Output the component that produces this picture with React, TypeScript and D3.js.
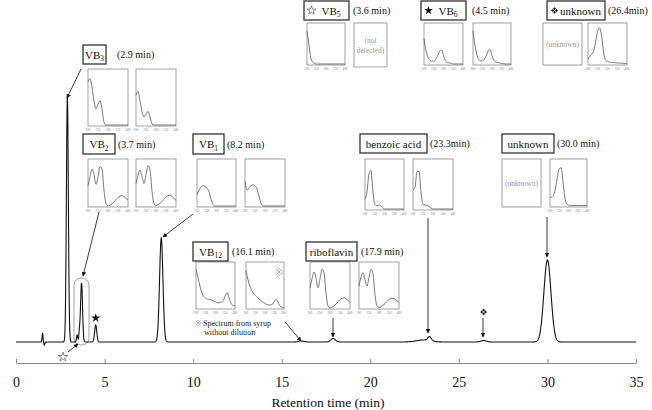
import React, { useEffect, useRef } from 'react';
import * as d3 from 'd3';

// chromatogram peaks: retention time (min), height (mAU), sigma (min)
const peakTimes = [1.5, 1.6, 2.9, 3.45, 3.58, 3.7, 4.5, 8.2, 16.1, 17.9, 23.0, 23.35, 26.4, 30.0];
const peakHeights = [9, -3, 245, 7, 9, 59, 17, 104, 1, 3.5, 2, 4, 1.5, 82];
const peakSigmas = [0.025, 0.03, 0.055, 0.035, 0.035, 0.055, 0.06, 0.095, 0.15, 0.13, 0.4, 0.1, 0.15, 0.2];

const xTicks = [0, 5, 10, 15, 20, 25, 30, 35];

// UV spectra, 200-400 nm every 10 nm, normalised absorbance
const wavelengths = [200, 210, 220, 230, 240, 250, 260, 270, 280, 290, 300, 310, 320, 330, 340, 350, 360, 370, 380, 390, 400];
const specTicks = [200, 250, 300, 350, 400];

const vb3Std = [0.8, 0.86, 0.7, 0.45, 0.3, 0.38, 0.45, 0.3, 0.05, 0, 0, 0, 0, 0, 0, 0, 0, 0, 0, 0, 0];
const vb3Sample = [0.55, 0.62, 0.45, 0.25, 0.15, 0.2, 0.25, 0.15, 0.02, 0, 0, 0, 0, 0, 0, 0, 0, 0, 0, 0, 0];
const vb2Std = [0.45, 0.65, 0.82, 0.7, 0.48, 0.65, 0.88, 0.82, 0.35, 0.05, 0, 0.02, 0.05, 0.09, 0.14, 0.19, 0.22, 0.23, 0.21, 0.17, 0.13];
const vb2Sample = [0.5, 0.68, 0.8, 0.66, 0.5, 0.7, 0.9, 0.8, 0.33, 0.05, 0.01, 0.03, 0.06, 0.1, 0.15, 0.2, 0.23, 0.24, 0.21, 0.17, 0.12];
const vb1Std = [0.25, 0.35, 0.42, 0.45, 0.44, 0.4, 0.33, 0.18, 0.05, 0, 0, 0, 0, 0, 0, 0, 0, 0, 0, 0, 0];
const vb1Sample = [0.55, 0.35, 0.4, 0.46, 0.47, 0.45, 0.38, 0.22, 0.06, 0, 0, 0, 0, 0, 0, 0, 0, 0, 0, 0, 0];
const vb12Std = [0.88, 0.7, 0.5, 0.35, 0.26, 0.22, 0.2, 0.2, 0.18, 0.16, 0.14, 0.12, 0.12, 0.13, 0.17, 0.28, 0.35, 0.22, 0.1, 0.06, 0.05];
const vb12Sample = [0.85, 0.65, 0.5, 0.4, 0.33, 0.28, 0.24, 0.2, 0.16, 0.13, 0.1, 0.08, 0.07, 0.07, 0.09, 0.16, 0.2, 0.12, 0.04, 0.02, 0.01];
const riboStd = [0.45, 0.66, 0.82, 0.68, 0.46, 0.66, 0.88, 0.8, 0.34, 0.05, 0, 0.02, 0.05, 0.09, 0.14, 0.19, 0.22, 0.23, 0.21, 0.17, 0.13];
const riboSample = [0.5, 0.7, 0.8, 0.64, 0.5, 0.7, 0.88, 0.78, 0.3, 0.05, 0.01, 0.03, 0.06, 0.1, 0.15, 0.19, 0.22, 0.22, 0.2, 0.16, 0.12];
const benzoicStd = [0.2, 0.35, 0.72, 0.8, 0.4, 0.1, 0.07, 0.08, 0.07, 0.03, 0, 0, 0, 0, 0, 0, 0, 0, 0, 0, 0];
const benzoicSample = [0.4, 0.45, 0.78, 0.78, 0.35, 0.1, 0.08, 0.08, 0.05, 0.02, 0, 0, 0, 0, 0, 0, 0, 0, 0, 0, 0];
const unknown30Sample = [0.18, 0.2, 0.25, 0.4, 0.65, 0.83, 0.85, 0.55, 0.2, 0.05, 0.02, 0.01, 0.01, 0.01, 0.01, 0.01, 0.01, 0.01, 0.01, 0.01, 0.01];
const vb5Std = [0.85, 0.5, 0.15, 0.05, 0.02, 0, 0, 0, 0, 0, 0, 0, 0, 0, 0, 0, 0, 0, 0, 0, 0];
const vb6Std = [0.65, 0.35, 0.18, 0.1, 0.07, 0.07, 0.12, 0.22, 0.33, 0.36, 0.22, 0.08, 0.04, 0.03, 0.02, 0, 0, 0, 0, 0, 0];
const vb6Sample = [0.85, 0.5, 0.25, 0.12, 0.08, 0.08, 0.12, 0.22, 0.34, 0.37, 0.22, 0.09, 0.05, 0.04, 0.03, 0.01, 0.01, 0, 0, 0, 0];
const unknown26Sample = [0.12, 0.2, 0.25, 0.35, 0.6, 0.85, 0.93, 0.7, 0.3, 0.1, 0.06, 0.05, 0.04, 0.04, 0.03, 0.03, 0.02, 0.02, 0.02, 0.01, 0.01];

const width = 652;
const height = 410;

const x = d3.scaleLinear().domain([0, 35]).range([16, 636]);
const y = d3.scaleLinear().domain([0, 245]).range([342, 97]);

// label boxes: [x, y, w, h], name, subscript, marker glyph, retention time text and its x
const labels = [
  { box: [83, 45, 23, 19], name: 'VB', sub: '3', mark: '', time: '(2.9 min)', tx: 117 },
  { box: [83, 134, 32, 20], name: 'VB', sub: '2', mark: '', time: '(3.7 min)', tx: 118 },
  { box: [193, 134, 31, 20], name: 'VB', sub: '1', mark: '', time: '(8.2 min)', tx: 227 },
  { box: [193, 242, 35, 19], name: 'VB', sub: '12', mark: '', time: '(16.1 min)', tx: 232 },
  { box: [306, 242, 51, 19], name: 'riboflavin', sub: '', mark: '', time: '(17.9 min)', tx: 361 },
  { box: [360, 134, 67, 19], name: 'benzoic acid', sub: '', mark: '', time: '(23.3min)', tx: 430 },
  { box: [502, 134, 52, 19], name: 'unknown', sub: '', mark: '', time: '(30.0 min)', tx: 557 },
  { box: [304, 1, 45, 19], name: 'VB', sub: '5', mark: 'open', time: '(3.6 min)', tx: 353 },
  { box: [421, 1, 45, 19], name: 'VB', sub: '6', mark: 'star', time: '(4.5 min)', tx: 472 },
  { box: [547, 1, 58, 19], name: 'unknown', sub: '', mark: 'clover', time: '(26.4min)', tx: 608 },
];

// spectrum insets: [x, y, w, h]
const spectra: { r: number[]; s?: number[]; text?: string[] }[] = [
  { r: [88, 69, 40, 57], s: vb3Std },
  { r: [136, 69, 40, 57], s: vb3Sample },
  { r: [88, 159, 40, 48], s: vb2Std },
  { r: [136, 159, 40, 48], s: vb2Sample },
  { r: [197, 159, 39, 48], s: vb1Std },
  { r: [245, 159, 40, 48], s: vb1Sample },
  { r: [196, 262, 39, 47], s: vb12Std },
  { r: [246, 262, 38, 47], s: vb12Sample },
  { r: [310, 262, 40, 47], s: riboStd },
  { r: [359, 262, 40, 47], s: riboSample },
  { r: [365, 159, 39, 51], s: benzoicStd },
  { r: [413, 159, 40, 51], s: benzoicSample },
  { r: [502, 159, 39, 48], text: ['(unknown)'] },
  { r: [550, 159, 37, 48], s: unknown30Sample },
  { r: [307, 23, 38, 42], s: vb5Std },
  { r: [354, 23, 33, 44], text: ['(not', 'detected)'] },
  { r: [424, 23, 39, 42], s: vb6Std },
  { r: [473, 23, 38, 42], s: vb6Sample },
  { r: [543, 23, 39, 42], text: ['(unknown)'] },
  { r: [588, 23, 39, 42], s: unknown26Sample },
];

// arrows: [x1, y1, x2, y2]
const arrows = [
  [81, 69, 67, 98],
  [99, 212, 83, 276],
  [193, 214, 163, 237],
  [285, 322, 301, 341],
  [333, 318, 333, 337],
  [428, 218, 428, 333],
  [483, 318, 483, 337],
  [547, 217, 547, 257],
  [68, 352, 78, 344],
];

const serif = "'Liberation Serif', 'Times New Roman', Times, serif";

const times = d3.range(0, 35.0001, 0.01);
const trace = times.map((t) => {
  let v = 0;
  peakTimes.forEach((pt, i) => {
    const z = (t - pt) / peakSigmas[i];
    v += peakHeights[i] * Math.exp(-0.5 * z * z);
  });
  return [t, v] as [number, number];
});

// small glyphs drawn as paths so they do not depend on installed fonts
const starPath = (size: number) => d3.symbol(d3.symbolStar, size)() ?? '';
const cloverPath = (r: number) => {
  // four diamonds around a centre
  const d = (cx: number, cy: number) =>
    `M${cx},${cy - r / 2}L${cx + r / 2},${cy}L${cx},${cy + r / 2}L${cx - r / 2},${cy}Z`;
  return d(0, -r / 2) + d(r / 2, 0) + d(0, r / 2) + d(-r / 2, 0);
};

const Mark: React.FC<{ kind: string; cx: number; cy: number; s?: number }> = ({ kind, cx, cy, s = 1 }) => {
  if (kind === 'star')
    return <path d={starPath(24 * s)} transform={`translate(${cx},${cy})`} fill="#111" />;
  if (kind === 'open')
    return (
      <path d={starPath(24 * s)} transform={`translate(${cx},${cy})`} fill="#fff" stroke="#555" strokeWidth={0.7} />
    );
  if (kind === 'clover')
    return (
      <path d={cloverPath(3.6 * s)} transform={`translate(${cx},${cy})`} fill="#111" stroke="#fff" strokeWidth={0.5} />
    );
  if (kind === 'ref') {
    const r = 2.6 * s;
    return (
      <g transform={`translate(${cx},${cy})`} stroke="#777" strokeWidth={0.6} fill="#777">
        <line x1={-r} y1={-r} x2={r} y2={r} />
        <line x1={-r} y1={r} x2={r} y2={-r} />
        <circle cx={0} cy={-r * 1.1} r={0.55} stroke="none" />
        <circle cx={0} cy={r * 1.1} r={0.55} stroke="none" />
        <circle cx={-r * 1.1} cy={0} r={0.55} stroke="none" />
        <circle cx={r * 1.1} cy={0} r={0.55} stroke="none" />
      </g>
    );
  }
  return null;
};

const Spectrum: React.FC<{ r: number[]; s?: number[]; text?: string[] }> = ({ r, s, text }) => {
  const [bx, by, bw, bh] = r;
  const sx = d3.scaleLinear().domain([200, 400]).range([bx, bx + bw]);
  const sy = d3.scaleLinear().domain([0, 1]).range([by + bh - 1, by + 2]);
  const line = d3
    .line<number>()
    .x((_, i) => sx(wavelengths[i]))
    .y((d) => sy(d))
    .curve(d3.curveMonotoneX);
  return (
    <g>
      <rect x={bx} y={by} width={bw} height={bh} fill="#fff" stroke="#8a8a8a" strokeWidth={0.8} />
      {s && <path d={line(s) ?? ''} fill="none" stroke="#555" strokeWidth={0.8} />}
      {s &&
        specTicks.map((t) => (
          <text key={t} x={sx(t)} y={by + bh + 5} fontSize={3.2} fill="#777" textAnchor="middle">
            {t}
          </text>
        ))}
      {text &&
        text.map((tx, i) => (
          <text
            key={i}
            x={bx + bw / 2}
            y={by + bh / 2 + 3 + (i - (text.length - 1) / 2) * 10}
            fontSize={7.5}
            fill="#999"
            textAnchor="middle"
          >
            {tx}
          </text>
        ))}
    </g>
  );
};

export default function App() {
  const axisRef = useRef<SVGGElement>(null);

  useEffect(() => {
    const { current: g } = axisRef;
    if (!g) {
      return;
    }
    const axis = d3.axisBottom(x).tickValues(xTicks).tickSize(-4).tickSizeOuter(0).tickPadding(14);
    const sel = d3.select(g);
    sel.selectAll('*').remove();
    sel.attr('transform', 'translate(0,363)').call(axis);
    sel.attr('font-family', null);
    sel.select('.domain').attr('stroke', '#8a8a8a');
    sel.selectAll('.tick line').attr('stroke', '#8a8a8a');
    sel.selectAll('.tick text').attr('font-size', 14).attr('fill', '#111');
  }, []);

  const linePath = d3
    .line<[number, number]>()
    .x((d) => x(d[0]))
    .y((d) => y(d[1]));

  return (
    <svg width={width} height={height} style={{ position: 'absolute', left: 0, top: 0, background: '#fff' }}>
      <style>{`text { font-family: ${serif}; }`}</style>
      <defs>
        <marker id="ah" viewBox="0 0 10 10" refX={9} refY={5} markerWidth={5} markerHeight={5} orient="auto">
          <path d="M0,0L10,5L0,10z" fill="#111" />
        </marker>
      </defs>

      {/* grouping outline around the VB2 / VB5 peaks */}
      <rect x={74} y={278} width={15} height={67} rx={7} fill="none" stroke="#999" strokeWidth={0.9} />

      <path d={linePath(trace) ?? ''} fill="none" stroke="#111" strokeWidth={1.1} />

      <g ref={axisRef} />
      <text x={328} y={407} fontSize={13.5} textAnchor="middle" fill="#111">
        Retention time (min)
      </text>

      {spectra.map((sp, i) => (
        <Spectrum key={i} r={sp.r} s={sp.s} text={sp.text} />
      ))}

      {labels.map((l, i) => {
        const [bx, by, bw, bh] = l.box;
        const textX = bx + bw / 2 + (l.mark ? 4.5 : 0);
        return (
          <g key={i}>
            <rect x={bx} y={by} width={bw} height={bh} fill="#fff" stroke="#333" strokeWidth={1.3} />
            {l.mark && <Mark kind={l.mark} cx={bx + 7.5} cy={by + bh / 2} />}
            <text x={textX} y={by + bh / 2 + 4} fontSize={11} textAnchor="middle" fill="#111">
              {l.name}
              {l.sub && (
                <tspan fontSize={7.5} dy={2.5}>
                  {l.sub}
                </tspan>
              )}
            </text>
            <text x={l.tx} y={by + bh / 2 + 3.5} fontSize={10} fill="#111">
              {l.time}
            </text>
          </g>
        );
      })}

      {arrows.map((a, i) => (
        <line key={i} x1={a[0]} y1={a[1]} x2={a[2]} y2={a[3]} stroke="#222" strokeWidth={0.9} markerEnd="url(#ah)" />
      ))}

      {/* peak markers */}
      <Mark kind="star" cx={x(4.5)} cy={y(17) - 7} s={1.1} />
      <Mark kind="clover" cx={x(26.4)} cy={312} />
      <Mark kind="open" cx={63} cy={357} s={1.1} />
      <Mark kind="ref" cx={279} cy={272} s={1.1} />

      <Mark kind="ref" cx={198} cy={323} s={0.9} />
      <text x={203} y={326} fontSize={8} fill="#222">
        Spectrum from syrup
      </text>
      <text x={204} y={335} fontSize={8} fill="#222">
        without dilution
      </text>
    </svg>
  );
}
